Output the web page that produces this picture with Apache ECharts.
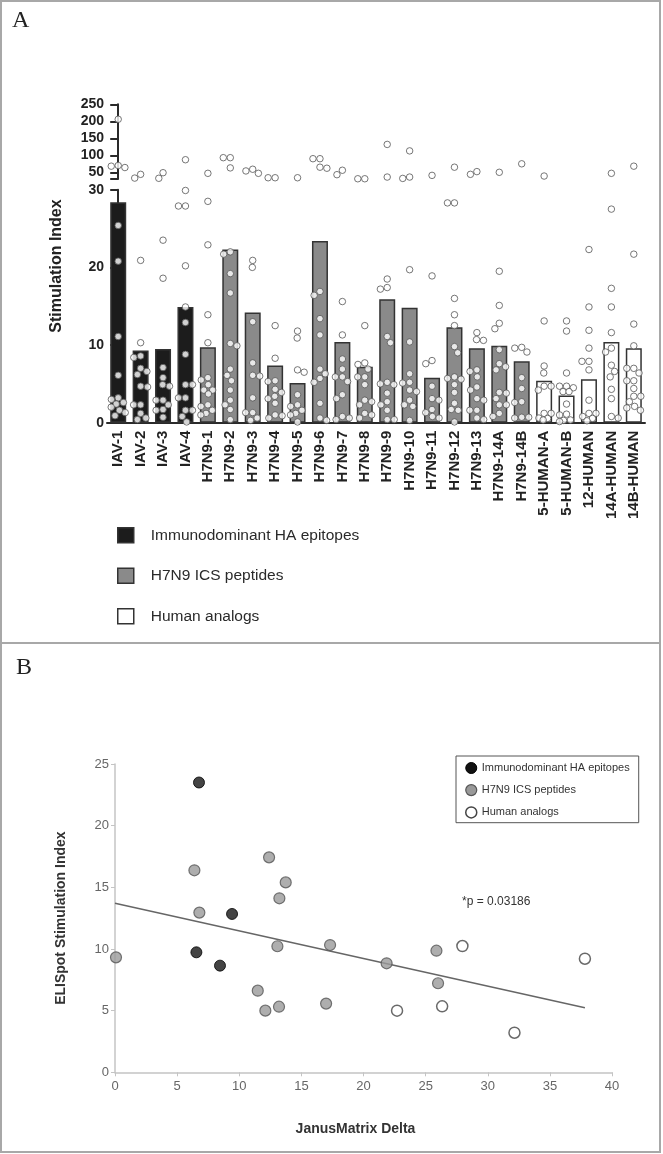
<!DOCTYPE html>
<html><head><meta charset="utf-8">
<script src="https://cdn.jsdelivr.net/npm/echarts@6/dist/echarts.min.js"></script>
<style>html,body{margin:0;padding:0;background:#fff}#c{width:663px;height:1154px}</style>
</head><body><div id="c"></div>
<script>
// ---------- Panel A data ----------
const categories = ['IAV-1','IAV-2','IAV-3','IAV-4','H7N9-1','H7N9-2','H7N9-3','H7N9-4','H7N9-5','H7N9-6','H7N9-7','H7N9-8','H7N9-9','H7N9-10','H7N9-11','H7N9-12','H7N9-13','H7N9-14A','H7N9-14B','5-HUMAN-A','5-HUMAN-B','12-HUMAN','14A-HUMAN','14B-HUMAN'];
const groupNames = ['Immunodominant HA epitopes','H7N9 ICS peptides','Human analogs'];
const categoryGroup = [0,0,0,0,1,1,1,1,1,1,1,1,1,1,1,1,1,1,1,2,2,2,2,2];
const barValues = [28.4,9.3,9.5,14.9,9.7,22.3,14.2,7.35,5.1,23.4,10.4,7.2,15.9,14.8,5.8,12.3,9.6,9.9,7.9,5.4,3.5,5.6,10.4,9.6];
const dotValues = [
  [206,70,68,64,25.4,20.8,11.1,6.1,3.2,3.0,2.6,2.4,2.0,1.6,1.3,0.9],
  [44,33,20.9,10.3,8.6,8.4,7.0,6.6,6.2,4.7,4.6,2.3,2.3,1.2,0.6,0.4],
  [48.8,32.4,23.5,18.6,7.1,5.8,4.9,4.7,2.9,2.9,2.3,1.7,1.6,0.7],
  [87,29.9,27.9,27.9,20.2,14.9,12.9,8.8,4.9,4.9,3.2,3.2,1.6,1.6,0.8,0.1],
  [47,28.5,22.9,13.9,10.3,5.8,5.5,4.9,4.2,4.2,3.7,2.3,2.1,1.6,1.2,1.0],
  [93,93,63,22.0,21.7,19.2,16.7,10.2,9.9,6.9,6.1,5.4,4.2,2.9,2.3,1.7,0.4],
  [59,54,47,20.9,20.0,13.0,7.7,6.1,6.0,3.2,1.3,1.3,0.6,0.3],
  [34,34,12.5,8.3,5.4,5.3,4.3,3.9,3.4,3.1,2.5,1.0,0.9,0.6],
  [34,11.8,10.9,6.8,6.5,3.6,2.3,2.1,1.6,1.2,1.0,0.1],
  [90,90,65,62,16.9,16.4,13.4,11.3,6.9,6.3,5.7,5.2,2.5,0.6,0.3],
  [56,43,15.6,11.3,8.2,6.9,5.9,5.9,5.3,3.6,3.1,0.8,0.6,0.4],
  [31,31,12.5,7.7,7.5,6.9,5.9,5.9,4.9,2.9,2.7,2.3,1.2,1.0,0.6],
  [132,36,18.5,17.4,17.2,11.1,10.3,5.2,5.0,4.9,3.8,2.7,2.3,1.6,0.4,0.4],
  [113,36,32,19.7,10.4,6.3,5.2,5.1,4.2,4.0,2.9,2.3,2.1,0.3],
  [41,18.9,8.0,7.6,4.7,3.1,2.9,1.7,1.3,0.8,0.6],
  [65,28.3,28.3,16.0,13.9,12.5,9.8,9.0,5.9,5.7,5.6,4.9,3.9,2.5,1.7,1.6,0.1],
  [52,44,11.6,10.7,10.6,6.8,6.6,5.9,4.6,4.2,3.1,2.9,1.6,1.6,0.6,0.4],
  [50,19.5,15.1,12.8,12.1,9.4,7.6,7.2,6.8,3.9,3.8,3.1,2.3,2.3,1.2,0.8],
  [75,9.7,9.6,9.1,5.8,4.4,2.7,2.6,0.7,0.7,0.6],
  [39,13.1,7.3,6.4,4.7,4.7,4.2,1.2,1.2,0.6,0.55,0.35],
  [13.1,11.8,6.4,4.7,4.7,4.5,4.0,4.0,2.4,1.1,1.0,0.35,0.3,0.15],
  [22.3,14.9,11.9,9.6,7.9,7.9,6.8,2.9,1.2,1.2,0.8,0.55,0.25],
  [47,27.5,17.3,14.9,11.6,9.6,9.1,7.4,6.6,5.9,4.3,3.1,0.8,0.6],
  [68,21.7,12.7,9.9,7.0,7.0,6.4,5.4,5.4,4.4,3.4,3.4,2.7,2.1,1.9,1.6]
];
const breakValue = 30;
const upperTicks = [50,100,150,200,250];

// ---------- Panel B data ----------
const scatterBlack = [[6.76,23.5],[9.42,12.84],[6.55,9.73],[8.45,8.65]];
const scatterGray = [[6.39,16.38],[12.4,17.43],[13.74,15.4],[13.23,14.11],[6.79,12.95],[13.07,10.22],[17.31,10.32],[0.08,9.32],[21.86,8.84],[11.49,6.62],[12.1,5.0],[13.2,5.32],[16.99,5.57],[25.87,9.86],[26.0,7.22]];
const scatterWhite = [[22.7,5.0],[27.96,10.24],[26.33,5.35],[32.15,3.21],[37.82,9.21]];
const trendLine = [[0,13.7],[37.82,5.24]];
const pValueText = '*p = 0.03186';

// ---------- fonts ----------
function hasFont(f){
  const c=document.createElement('canvas').getContext('2d');
  const s='Immunodominant HA epitopes 0123';
  c.font='20px monospace'; const a=c.measureText(s).width;
  c.font="20px '"+f+"', monospace"; const b=c.measureText(s).width;
  return Math.abs(a-b)>0.5;
}
const NARROW = hasFont('Liberation Sans Narrow');
const SANS = "'Liberation Sans', Arial, sans-serif";
const NARROWF = NARROW ? "'Liberation Sans Narrow', 'Liberation Sans', sans-serif" : SANS;
const legAFont = NARROW ? 18.5 : 15.5;
const legBFont = NARROW ? 13.5 : 11;

const barFill = ['#1c1c1c','#8a8a8a','#ffffff'];
const barBorder = '#333';

const chart = echarts.init(document.getElementById('c'), null, {renderer:'canvas'});

function barSeries(g){
  return {
    name: groupNames[g], type:'bar', xAxisIndex:1, yAxisIndex:1,
    barWidth:16, barGap:'-100%', z:2,
    itemStyle:{color:barFill[g], borderColor:barBorder, borderWidth:1.5},
    data: barValues.map((v,i)=> categoryGroup[i]===g ? v : '-')
  };
}

function dotData(upper, offsets){
  const out=[];
  dotValues.forEach((arr,i)=>{
    arr.forEach((v,j)=>{
      if ((v>breakValue)===upper){
        const dx = offsets ? offsets[i][j] : 0;
        out.push([i+dx, v]);
      }
    });
  });
  return out;
}

const dotStyle = {color:'#fff', borderColor:'#555', borderWidth:1};
const axisDark = {lineStyle:{color:'#2a2a2a', width:2}};

const option = {
  animation:false,
  backgroundColor:'#fff',
  grid:[
    {left:107, right:18, top:104.3, height:74.8},
    {left:107, right:18, top:189.7, bottom:731.3},
    {left:115, right:51, top:764, bottom:81.7}
  ],
  xAxis:[
    {gridIndex:0, type:'value', min:-0.5, max:23.5, show:false},
    {gridIndex:1, type:'category', data:categories,
      axisLine:axisDark, axisTick:{show:false},
      axisLabel:{rotate:90, interval:0, margin:8, fontFamily:SANS, fontWeight:'bold', fontSize:15, color:'#222'}},
    {gridIndex:1, type:'value', min:-0.5, max:23.5, show:false},
    {gridIndex:2, type:'value', min:0, max:40, interval:5,
      axisLine:{lineStyle:{color:'#c4c4c4', width:1.5}},
      axisTick:{show:true, length:4, lineStyle:{color:'#c4c4c4'}},
      splitLine:{show:false},
      axisLabel:{color:'#666', fontSize:13, fontFamily:NARROWF, margin:8},
      name:'JanusMatrix Delta', nameLocation:'middle', nameGap:50,
      nameTextStyle:{fontFamily:SANS, fontWeight:'bold', fontSize:14, color:'#333', padding:[0,16,0,0]}}
  ],
  yAxis:[
    {gridIndex:0, type:'value', min:30, max:250,
      axisLine:{show:true, ...axisDark},
      axisTick:{show:true, length:8, lineStyle:{color:'#2a2a2a', width:2}, customValues:[30].concat(upperTicks)},
      axisLabel:{customValues:upperTicks, fontFamily:SANS, fontWeight:'bold', fontSize:14, color:'#222', margin:3},
      splitLine:{show:false}},
    {gridIndex:1, type:'value', min:0, max:30, interval:10,
      axisLine:{show:true, ...axisDark},
      axisTick:{show:true, length:8, lineStyle:{color:'#2a2a2a', width:2}},
      axisLabel:{fontFamily:SANS, fontWeight:'bold', fontSize:14, color:'#222', margin:3},
      splitLine:{show:false}},
    {gridIndex:2, type:'value', min:0, max:25, interval:5,
      axisLine:{show:true, lineStyle:{color:'#c4c4c4', width:1.5}},
      axisTick:{show:true, length:4, lineStyle:{color:'#c4c4c4'}},
      splitLine:{show:false},
      axisLabel:{color:'#666', fontSize:13, fontFamily:NARROWF, margin:6},
      name:'ELISpot Stimulation Index', nameLocation:'middle', nameRotate:90, nameGap:47,
      nameTextStyle:{fontFamily:SANS, fontWeight:'bold', fontSize:14, color:'#333'}}
  ],
  legend:[
    {left:117, top:527, orient:'vertical', padding:0, itemWidth:16, itemHeight:15, itemGap:24,
      selectedMode:false, icon:'rect',
      textStyle:{fontFamily:NARROWF, fontSize:legAFont, color:'#2a2a2a', padding:[0,0,0,12], lineHeight:15},
      data: groupNames.map((n,g)=>({name:n, icon:'rect', itemStyle:{color:barFill[g], borderColor:barBorder, borderWidth:1.5}}))},
    {left:456, top:756, orient:'vertical', padding:[6,9,4,9], itemWidth:11, itemHeight:11, itemGap:10,
      selectedMode:false, borderColor:'#555', borderWidth:1,
      textStyle:{fontFamily:NARROWF, fontSize:legBFont, color:'#333', lineHeight:11},
      data:[
        {name:groupNames[0], icon:'circle', itemStyle:{color:'#111', borderColor:'#000', borderWidth:1}},
        {name:groupNames[1], icon:'circle', itemStyle:{color:'#999', borderColor:'#555', borderWidth:1.2}},
        {name:groupNames[2], icon:'circle', itemStyle:{color:'#fff', borderColor:'#444', borderWidth:1.5}}
      ]}
  ],
  series:[
    barSeries(0), barSeries(1), barSeries(2),
    {id:'dotsUpper', type:'scatter', xAxisIndex:0, yAxisIndex:0, symbolSize:6.5, z:5, itemStyle:dotStyle, data:dotData(true)},
    {id:'dotsLower', type:'scatter', xAxisIndex:2, yAxisIndex:1, symbolSize:6.5, z:5, itemStyle:dotStyle, data:dotData(false)},
    {name:'trend', type:'line', xAxisIndex:3, yAxisIndex:2, data:trendLine, symbol:'none', lineStyle:{color:'#666', width:1.5}, z:1},
    {name:groupNames[0], type:'scatter', xAxisIndex:3, yAxisIndex:2, symbolSize:11, z:4,
      itemStyle:{color:'#151515', borderColor:'#000', borderWidth:1}, data:scatterBlack},
    {name:groupNames[1], type:'scatter', xAxisIndex:3, yAxisIndex:2, symbolSize:11, z:4,
      itemStyle:{color:'#9a9a9a', borderColor:'#555', borderWidth:1.2}, data:scatterGray},
    {name:groupNames[2], type:'scatter', xAxisIndex:3, yAxisIndex:2, symbolSize:11, z:4,
      itemStyle:{color:'#fff', borderColor:'#444', borderWidth:1.5}, data:scatterWhite}
  ],
  graphic:[
    {type:'rect', silent:true, shape:{x:1, y:1, width:659, height:1151}, style:{fill:'none', stroke:'#a8a8a8', lineWidth:2}},
    {type:'line', silent:true, shape:{x1:1, y1:643, x2:660, y2:643}, style:{stroke:'#a8a8a8', lineWidth:2}},
    {type:'text', x:12, y:21, style:{text:'A', font:"24px 'Liberation Serif', 'DejaVu Serif', serif", fill:'#222', verticalAlign:'middle'}},
    {type:'text', x:16, y:668, style:{text:'B', font:"24px 'Liberation Serif', 'DejaVu Serif', serif", fill:'#222', verticalAlign:'middle'}},
    {type:'text', x:57, y:266, rotation:Math.PI/2, style:{text:'Stimulation Index', font:"bold 16px "+SANS, fill:'#222', align:'center', verticalAlign:'middle'}},
    {type:'text', x:462, y:902, style:{text:pValueText, font:(NARROW?'13.5px ':'12px ')+NARROWF, fill:'#333', verticalAlign:'middle'}}
  ]
};
chart.setOption(option);

// beeswarm-style horizontal spread of dots (pixel space), kept within the bar width
function swarm(pys, D, maxOff){
  const idx = pys.map((y,i)=>i).sort((a,b)=>pys[a]-pys[b]);
  const placed=[]; const out=new Array(pys.length).fill(0);
  let lastSide = 1;
  idx.forEach(i=>{
    const y=pys[i]; const near=[]; const forb=[];
    placed.forEach(p=>{const dy=Math.abs(p.y-y); if(dy<D){near.push(p); const w=Math.sqrt(D*D-dy*dy); forb.push([p.x-w,p.x+w]);}});
    const cands=[0];
    forb.forEach(f=>cands.push(f[0],f[1]));
    for(let s=-maxOff; s<=maxOff+1e-9; s+=0.5) cands.push(s);
    const ok = c => Math.abs(c)<=maxOff+1e-6 && forb.every(f=>c<=f[0]+1e-6 || c>=f[1]-1e-6);
    const valid = cands.filter(ok);
    let x;
    if (valid.length){
      valid.sort((a,b)=>(Math.abs(a)-Math.abs(b)) || (lastSide>0 ? a-b : b-a));
      x = valid[0];
    } else {
      let best=-1; x=0;
      cands.filter(c=>Math.abs(c)<=maxOff+1e-6).forEach(c=>{
        let m=Infinity; near.forEach(p=>{m=Math.min(m, Math.hypot(p.x-c, p.y-y));});
        if(m>best+1e-6){best=m; x=c;}
      });
    }
    if (x!==0) lastSide = Math.sign(x);
    placed.push({x,y}); out[i]=x;
  });
  return out;
}
const pxUnit = chart.convertToPixel({xAxisIndex:2, yAxisIndex:1},[1,0])[0]-chart.convertToPixel({xAxisIndex:2, yAxisIndex:1},[0,0])[0];
const offsets = dotValues.map((arr,i)=>{
  const res=new Array(arr.length).fill(0);
  [true,false].forEach(up=>{
    const ids=[]; const pys=[];
    arr.forEach((v,j)=>{ if((v>breakValue)===up){ ids.push(j);
      const p = up ? chart.convertToPixel({xAxisIndex:0, yAxisIndex:0},[i,v]) : chart.convertToPixel({xAxisIndex:2, yAxisIndex:1},[i,v]);
      pys.push(p[1]); }});
    const xs=swarm(pys,7,7);
    ids.forEach((j,k)=>{res[j]=xs[k]/pxUnit;});
  });
  return res;
});
chart.setOption({series:[{id:'dotsUpper', data:dotData(true,offsets)},{id:'dotsLower', data:dotData(false,offsets)}]});
</script>
</body></html>
